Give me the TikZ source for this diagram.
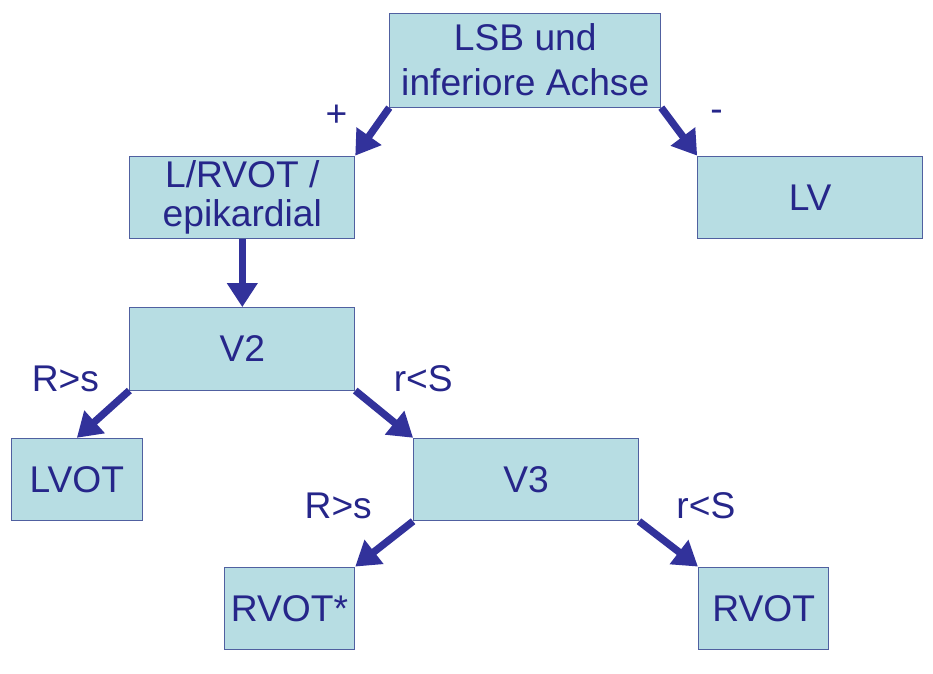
\documentclass[tikz,border=0pt]{standalone}
\usepackage{fontspec}
\setmainfont{Liberation Sans}
\usetikzlibrary{arrows.meta, positioning, calc}
\definecolor{boxfill}{RGB}{183,221,227}
\definecolor{boxline}{RGB}{80,96,160}
\definecolor{ink}{RGB}{38,38,138}
\definecolor{arrowblue}{RGB}{50,50,155}

\begin{document}
\begin{tikzpicture}[
    box/.style={rectangle, draw=boxline, line width=0.8pt, fill=boxfill, text=ink, minimum height=2.18cm, inner sep=2pt, align=center, font=\fontsize{28}{34}\selectfont},
    wide/.style={box, minimum width=5.95cm},
    narrow/.style={box, minimum width=3.45cm},
    lbl/.style={text=ink, inner sep=0pt, font=\fontsize{28}{34}\selectfont},
    arrow/.style={-{Triangle[length=18pt, width=22pt]}, line width=5.5pt, arrowblue}
]
\useasboundingbox (0,0) rectangle (24.69,-17.81);

% Root
\node[box, minimum width=7.17cm, minimum height=2.49cm] (root) at (13.90,-1.59) {LSB und\\inferiore Achse};

% Level 1
\node[wide, below left=1.27cm and 0.90cm of root.south west] (lrvot) {L/RVOT /\\[-4pt]epikardial};
\node[wide, below right=1.27cm and 0.95cm of root.south east] (lv) {LV};

% Level 2
\node[wide, below=1.8cm of lrvot] (v2) {V2};
\node[narrow, below left=1.25cm and -0.35cm of v2.south west] (lvot) {LVOT};
\node[wide, below right=1.25cm and 1.53cm of v2.south east] (v3) {V3};

% Level 3
\node[narrow, below left=1.2cm and 1.53cm of v3.south west] (rvotstar) {RVOT*};
\node[narrow, below right=1.2cm and 1.56cm of v3.south east] (rvot) {RVOT};

% Arrows
\draw[arrow] (root.south west) -- (lrvot.north east);
\draw[arrow] (root.south east) -- (lv.north west);
\draw[arrow] (lrvot) -- (v2);
\draw[arrow] (v2.south west) -- (lvot.north);
\draw[arrow] (v2.south east) -- (v3.north west);
\draw[arrow] (v3.south west) -- (rvotstar.north east);
\draw[arrow] (v3.south east) -- (rvot.north west);

% Labels
\node[lbl] (plus) at ($(root.south west)+(-1.40,-0.21)$) {+};
\node[lbl] (minus) at ($(root.south east)+(1.46,-0.21)$) {-};
\node[lbl] (v2left) at ($(v2.south west)+(-1.69,0.32)$) {R>s};
\node[lbl] (v2right) at ($(v2.south east)+(1.80,0.32)$) {r<S};
\node[lbl] (v3left) at ($(v3.south west)+(-1.98,0.40)$) {R>s};
\node[lbl] (v3right) at ($(v3.south east)+(1.77,0.40)$) {r<S};

\end{tikzpicture}
\end{document}
